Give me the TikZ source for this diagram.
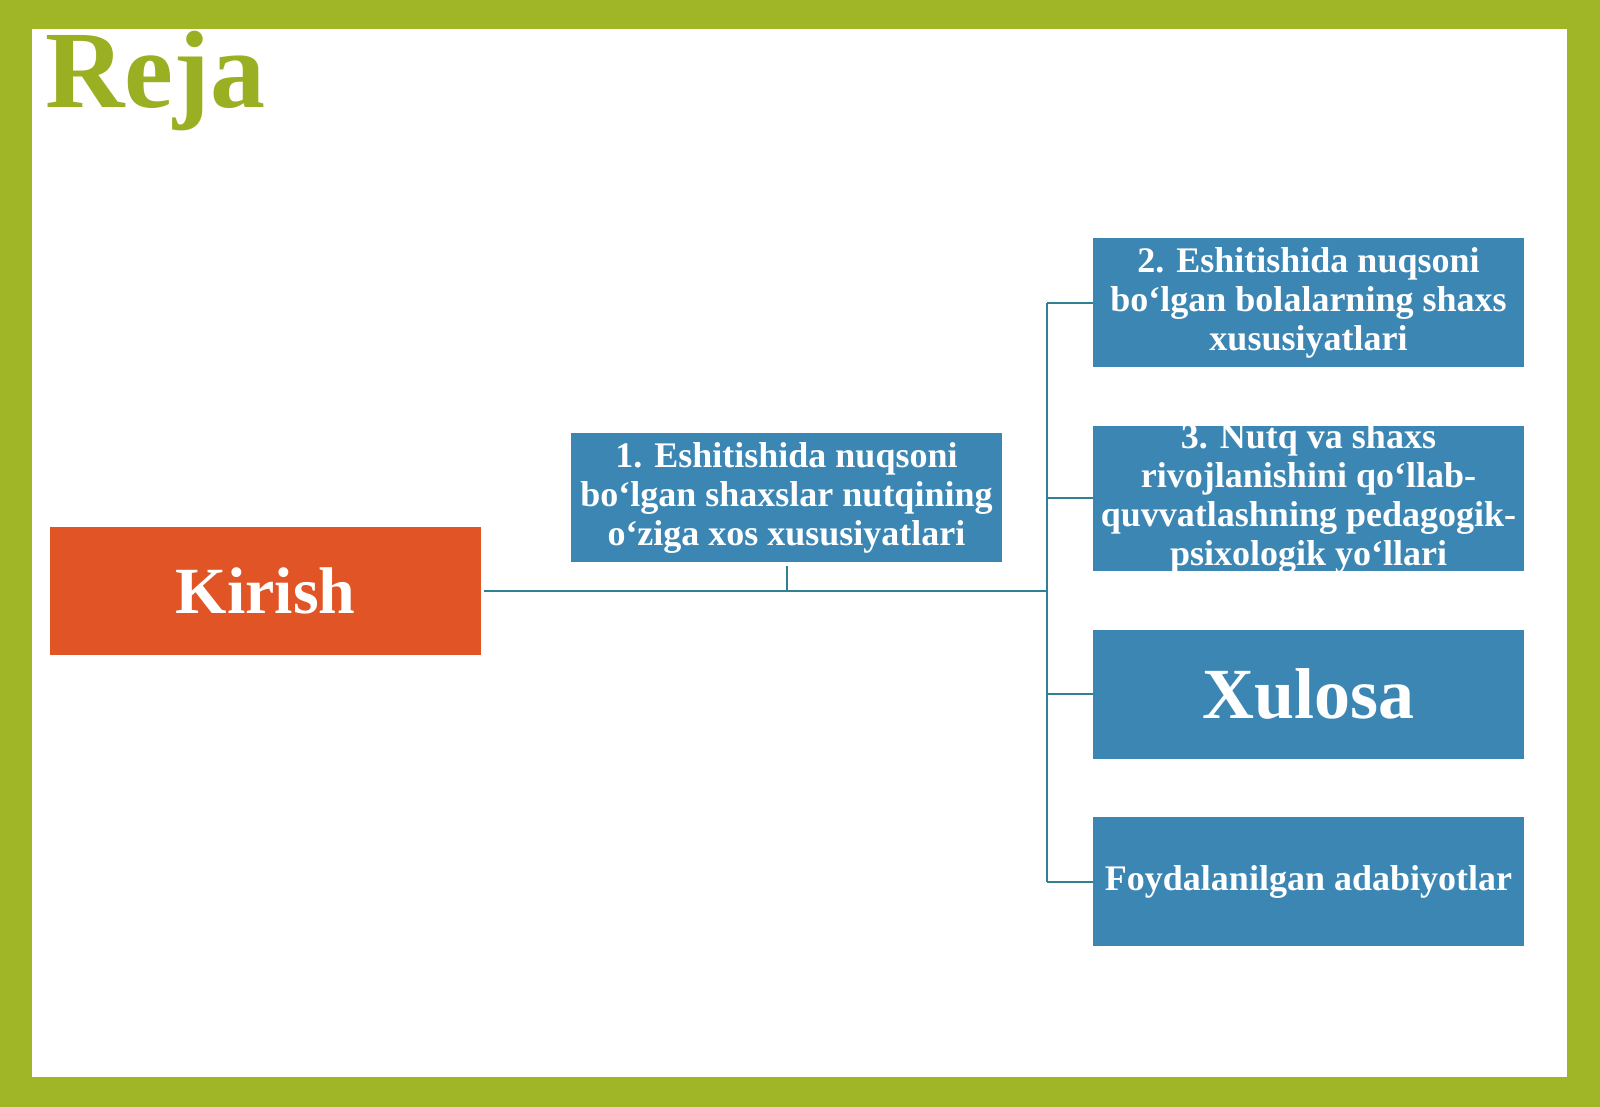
\documentclass[tikz,border=0pt]{standalone}
\usepackage{fontspec}
\setmainfont{Liberation Serif}
\usetikzlibrary{positioning}
\definecolor{framegreen}{HTML}{A1B627}
\definecolor{rejagreen}{HTML}{9AB022}
\definecolor{boxblue}{HTML}{3C86B4}
\definecolor{kirishorange}{HTML}{E05425}
\definecolor{linkteal}{HTML}{2F7F95}
\begin{document}
\begin{tikzpicture}[x=0.5pt, y=-0.5pt, node distance={29pt},
	main/.style = {fill=boxblue, text=white, font=\bfseries\fontsize{18}{19.5}\selectfont,
		minimum width=215.5pt, minimum height=64.5pt, inner sep=0pt, align=center},
	link/.style = {draw=linkteal, line width=1pt}]
	% frame
	\fill[framegreen] (0,0) rectangle (1600,1107);
	\fill[white] (32,29) rectangle (1567,1077);
	\node[text=rejagreen, font=\bfseries\fontsize{55}{55}\selectfont, anchor=base west, inner sep=0pt] (reja) at (45,108) {Reja};
	% boxes
	\node[main, fill=kirishorange, minimum height=64pt, font=\bfseries\fontsize{33}{33}\selectfont] (kirish) at (265.5,591) {Kirish};
	\node[main] (b1) at (786.5,497.5) {1. Eshitishida nuqsoni\\bo‘lgan shaxslar nutqining\\o‘ziga xos xususiyatlari};
	\node[main] (b2) at (1308.5,302.5) {2. Eshitishida nuqsoni\\bo‘lgan bolalarning shaxs\\xususiyatlari};
	\node[main, minimum height=72.5pt, label={[text=white, font=\bfseries\fontsize{18}{19.5}\selectfont, align=center]center:3. Nutq va shaxs\\rivojlanishini qo‘llab-\\quvvatlashning pedagogik-\\psixologik yo‘llari}] (b3) [below=of b2] {};
	\node[main, font=\bfseries\fontsize{36}{36}\selectfont] (xulosa) [below=of b3] {Xulosa};
	\node[main] (foyd) [below=of xulosa] {Foydalanilgan adabiyotlar};
	% connectors
	\coordinate (jn) at (1047,591);
	\draw[link] ([xshift=1.5pt]kirish.east) -- (jn);
	\draw[link] ([yshift=-2pt]b1.south) -- (b1.south |- jn);
	\draw[link] (jn |- b2.west) -- (jn |- foyd.west);
	\draw[link] (jn |- b2.west) -- (b2.west);
	\draw[link] (jn |- b3.west) -- (b3.west);
	\draw[link] (jn |- xulosa.west) -- (xulosa.west);
	\draw[link] (jn |- foyd.west) -- (foyd.west);
\end{tikzpicture}
\end{document}
